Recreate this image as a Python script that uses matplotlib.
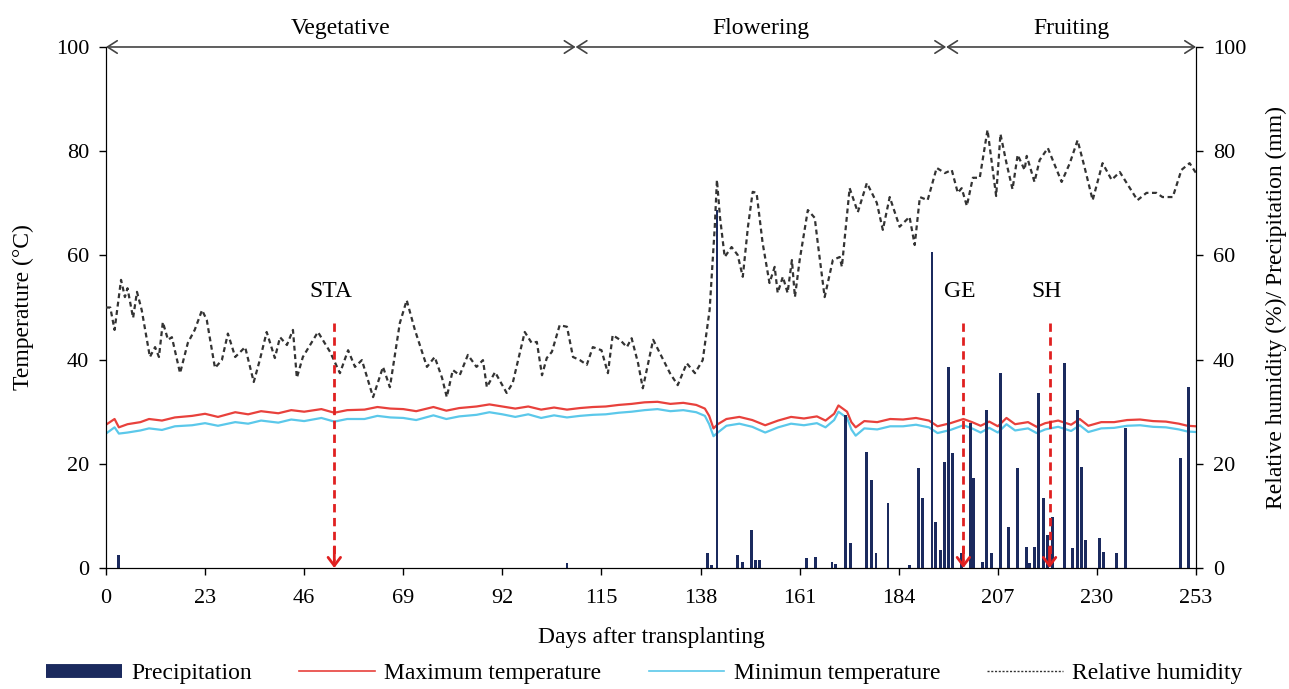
import numpy as np
import matplotlib
matplotlib.use("Agg")
import matplotlib.pyplot as plt
from matplotlib.lines import Line2D

plt.rcParams["font.family"] = ["Liberation Serif", "DejaVu Serif"]

# ── data ──────────────────────────────────────────────────────────────────────
temp_days = [0, 2, 3, 5, 8, 10, 13, 16, 20, 23, 26, 30, 33, 36, 40, 43, 46, 50, 53, 56,
             60, 63, 66, 69, 72, 76, 79, 82, 86, 89, 92, 95, 98, 101, 104, 107, 110, 113,
             116, 119, 122, 125, 128, 131, 134, 137, 139, 140, 141, 142, 144, 147, 150,
             153, 156, 159, 162, 165, 167, 169, 170, 172, 173, 174, 176, 179, 182, 185,
             188, 191, 193, 196, 199, 201, 203, 205, 207, 209, 211, 214, 216, 218, 221,
             224, 226, 228, 231, 234, 237, 240, 243, 246, 249, 251, 253]
tmax = [27.5, 28.6, 27.0, 27.6, 28.0, 28.6, 28.3, 28.9, 29.2, 29.6, 29.0, 29.9, 29.5, 30.1,
        29.7, 30.3, 30.0, 30.5, 29.8, 30.3, 30.4, 30.9, 30.6, 30.5, 30.1, 30.9, 30.2, 30.7,
        31.0, 31.4, 31.0, 30.6, 31.0, 30.4, 30.8, 30.4, 30.7, 30.9, 31.0, 31.3, 31.5, 31.8,
        31.9, 31.5, 31.7, 31.3, 30.6, 29.2, 26.8, 27.6, 28.6, 29.0, 28.4, 27.4, 28.3, 29.0,
        28.7, 29.1, 28.3, 29.6, 31.2, 30.0, 28.0, 27.0, 28.2, 28.0, 28.6, 28.5, 28.8, 28.3,
        27.2, 27.8, 28.6, 28.0, 27.3, 28.1, 27.2, 28.8, 27.6, 28.0, 27.1, 27.8, 28.3, 27.5,
        28.6, 27.3, 28.0, 28.0, 28.4, 28.5, 28.2, 28.1, 27.7, 27.3, 27.2]
tmin = [25.8, 27.0, 25.8, 26.0, 26.4, 26.8, 26.5, 27.2, 27.4, 27.8, 27.3, 28.0, 27.7, 28.3,
        27.9, 28.5, 28.2, 28.8, 28.1, 28.6, 28.6, 29.2, 28.9, 28.8, 28.4, 29.3, 28.6, 29.1,
        29.4, 29.9, 29.5, 29.0, 29.5, 28.8, 29.3, 28.9, 29.2, 29.4, 29.5, 29.8, 30.0, 30.3,
        30.5, 30.1, 30.3, 29.9, 29.2, 27.6, 25.3, 26.0, 27.3, 27.7, 27.1, 26.0, 27.0, 27.7,
        27.4, 27.8, 27.0, 28.4, 30.0, 28.8, 26.6, 25.4, 26.8, 26.6, 27.2, 27.2, 27.5, 27.0,
        25.9, 26.5, 27.4, 26.8, 26.0, 26.9, 26.0, 27.6, 26.4, 26.8, 25.9, 26.6, 27.1, 26.3,
        27.4, 26.1, 26.8, 26.9, 27.3, 27.4, 27.1, 27.0, 26.6, 26.2, 26.1]

rh_days = [0, 1, 2, 3.5, 4.4, 5, 6.3, 7.2, 8.3, 10.2, 11.4, 12.3, 13.2, 14.4, 15.3, 17.2, 19,
           20.6, 22.3, 23.4, 25.3, 26.9, 28.3, 30, 32.3, 34.3, 35.7, 37.3, 39.2, 40.4, 42,
           43.4, 44.3, 45.7, 49.2, 52, 54.3, 56.2, 57.8, 59.4, 62, 64.3, 65.9, 68.2, 69.8,
           71.7, 74.5, 76.3, 78, 79.1, 80.5, 82.1, 84, 86, 87.5, 88.4, 90.3, 93, 94.4, 97.2,
           98.8, 100, 101.2, 102.3, 103.5, 105.3, 107, 108.4, 110, 111.6, 113, 115, 116.5,
           117.6, 119.3, 120.9, 122, 123.5, 124.6, 127, 129, 130.9, 132.7, 134.8, 136.7,
           138.5, 140.1, 141.3, 141.8, 142.5, 143.6, 145.2, 146.6, 147.8, 149, 150.1, 151,
           152.4, 154, 155.2, 155.9, 157.1, 158.2, 159.2, 159.9, 161, 162.9, 164.5, 165.2,
           166.8, 168.7, 170.3, 170.8, 172.6, 174.5, 176.6, 178.9, 180.3, 181.9, 184.2,
           186.5, 187.7, 188.9, 190.7, 192.8, 194.7, 196.3, 197.7, 198.6, 199.8, 201.2,
           202.8, 204.6, 206.6, 207.6, 209, 210.4, 211.6, 213.2, 213.7, 215.5, 216.7, 218.6,
           221.8, 223.7, 225.5, 227.1, 229, 231.3, 233.4, 235.3, 236.9, 239.4, 241.5, 243.8,
           245.2, 247.6, 249.6, 251.5, 253]
rh = [50, 50, 45.7, 55.3, 52, 53.7, 48, 53, 49.5, 40.5, 42.4, 40.5, 47.2, 43.8, 44.3, 37.4,
      43.2, 45.7, 49.5, 47.6, 38.4, 39.9, 45, 40.5, 42.4, 35.7, 39.9, 45.3, 40.3, 44.3, 42.8,
      45.7, 36.5, 40.5, 45.3, 41.5, 37.4, 41.8, 38.6, 39.9, 32.8, 38.6, 34.7, 47, 51.4, 45.7,
      38.6, 40.5, 36.5, 32.8, 38, 37, 40.9, 38.6, 39.9, 34.7, 37.6, 33.6, 35.5, 45.3, 43.2,
      43.4, 37, 40.3, 41.5, 46.6, 46.3, 40.5, 39.9, 39, 42.4, 41.8, 37.4, 44.7, 43.8, 42.4,
      44.1, 39.3, 34.5, 43.8, 40.5, 37.4, 35.1, 39.3, 37.4, 39.9, 49.5, 65.5, 74.5, 67.4,
      59.7, 61.6, 60.1, 55.9, 65.5, 72.2, 72, 62.4, 54.7, 57.8, 52.8, 55.9, 52.8, 59.1, 52,
      59.1, 68.7, 67.2, 62.4, 52, 59.1, 59.7, 57.8, 72.9, 68.3, 73.9, 70.1, 64.9, 71.2, 65.5,
      67.4, 62, 71.2, 70.6, 76.8, 75.8, 76.4, 72, 72.9, 69.5, 74.9, 74.9, 84.1, 71.4, 83.3,
      77.7, 72.7, 79.3, 76.4, 79.1, 74.1, 78.3, 80.6, 74.1, 77.7, 82.1, 77, 70.6, 77.7,
      74.5, 76, 73.9, 70.6, 72, 72, 71.2, 71.2, 76.4, 77.7, 75.8]

rain_days = [3, 107, 139.7, 140.6, 141.8, 146.6, 147.8, 149.9, 150.8, 151.6, 162.6, 164.7,
             168.5, 169.4, 171.7, 172.8, 176.6, 177.7, 178.7, 181.5, 186.5, 188.6, 189.6,
             191.7, 192.6, 193.6, 194.6, 195.6, 196.5, 198.6, 200.7, 201.4, 203.5, 204.4,
             205.6, 207.7, 209.5, 211.6, 213.7, 214.3, 215.5, 216.5, 217.6, 218.6, 219.7,
             222.5, 224.4, 225.5, 226.4, 227.4, 230.6, 231.6, 234.6, 236.7, 249.4, 251.3]
rain = [2.5, 1.0, 2.8, 0.5, 68.7, 2.5, 1.2, 7.3, 1.5, 1.5, 1.9, 2.1, 1.1, 0.8, 29.4, 4.8,
        22.3, 16.9, 2.8, 12.5, 0.5, 19.2, 13.4, 60.7, 8.8, 3.5, 20.3, 38.6, 22.0, 2.8, 27.8,
        17.3, 1.2, 30.3, 2.8, 37.4, 7.9, 19.2, 4.0, 1.0, 4.0, 33.6, 13.4, 6.3, 9.8, 39.3,
        3.8, 30.3, 19.4, 5.4, 5.8, 3.1, 2.9, 26.9, 21.1, 34.7]

stage_names = ["Vegetative", "Flowering", "Fruiting"]
stage_bounds = [0, 109, 195, 253]
event_names = ["STA", "GE", "SH"]
event_days = [53, 199, 219]

xticks = [0, 23, 46, 69, 92, 115, 138, 161, 184, 207, 230, 253]

NAVY = "#1b2a5e"
RED = "#e8413c"
CYAN = "#5bc8ea"
FS = 16

# ── figure ────────────────────────────────────────────────────────────────────
fig = plt.figure(figsize=(12.89, 6.89), dpi=100)
ax = fig.add_axes([0.0822, 0.1756, 0.8457, 0.7562])
ax2 = ax.twinx()

ax.plot(temp_days, tmax, color=RED, lw=1.6)
ax.plot(temp_days, tmin, color=CYAN, lw=1.6)

ax2.bar(rain_days, rain, width=0.65, color=NAVY, zorder=2)
ax2.plot(rh_days, rh, color="#333333", lw=1.6, ls=(0, (2.2, 1.6)), zorder=3)

for a in (ax, ax2):
    a.set_xlim(0, 253)
    a.set_ylim(0, 100)
    a.spines["top"].set_visible(False)
    a.tick_params(labelsize=FS, direction="out", length=5, width=1, pad=7)
ax.tick_params(axis="x", pad=10)
ax.set_yticks([0, 20, 40, 60, 80, 100])
ax2.set_yticks([0, 20, 40, 60, 80, 100])
ax.set_xticks(xticks)
ax.set_xticklabels([str(t) for t in xticks])

ax.set_xlabel("Days after transplanting", fontsize=FS + 1, labelpad=14)
ax.set_ylabel("Temperature (°C)", fontsize=FS + 1, labelpad=16)
ax2.set_ylabel("Relative humidity (%)/ Precipitation (mm)", fontsize=FS + 1, labelpad=14)

# growth stage arrows along the top
for i, name in enumerate(stage_names):
    x0, x1 = stage_bounds[i], stage_bounds[i + 1]
    ax2.annotate("", xy=(x1, 100), xytext=(x0, 100), annotation_clip=False,
                 arrowprops=dict(arrowstyle="<->,head_length=0.7,head_width=0.45",
                                 color="#444444", lw=1.2, shrinkA=0, shrinkB=0))
    ax2.text((x0 + x1) / 2, 103.5, name, ha="center", va="center", fontsize=FS + 1,
             clip_on=False)

# event markers
for name, d in zip(event_names, event_days):
    ax2.plot([d, d], [47, 1.5], color="#e02020", lw=2, ls=(0, (3, 2)), zorder=4)
    ax2.annotate("", xy=(d, 0), xytext=(d, 4),
                 arrowprops=dict(arrowstyle="->,head_length=0.6,head_width=0.45",
                                 color="#e02020", lw=2, shrinkA=0, shrinkB=0), zorder=4)
    ax2.text(d - 0.8, 53, name, ha="center", va="center", fontsize=FS + 1)

handles = [
    Line2D([], [], color=NAVY, lw=10, solid_capstyle="butt"),
    Line2D([], [], color=RED, lw=1.2),
    Line2D([], [], color=CYAN, lw=1.2),
    Line2D([], [], color="#333333", lw=1, ls=(0, (1.5, 1.2))),
]
labels = ["Precipitation", "Maximum temperature", "Minimun temperature", "Relative humidity"]
fig.legend(handles, labels, loc="lower center", bbox_to_anchor=(0.5, 0.0), ncol=4,
           frameon=False, fontsize=FS + 1, handlelength=3.2, handletextpad=0.4,
           columnspacing=2.0, borderpad=0.2, borderaxespad=0.0)

fig.savefig("out.png", dpi=100)
